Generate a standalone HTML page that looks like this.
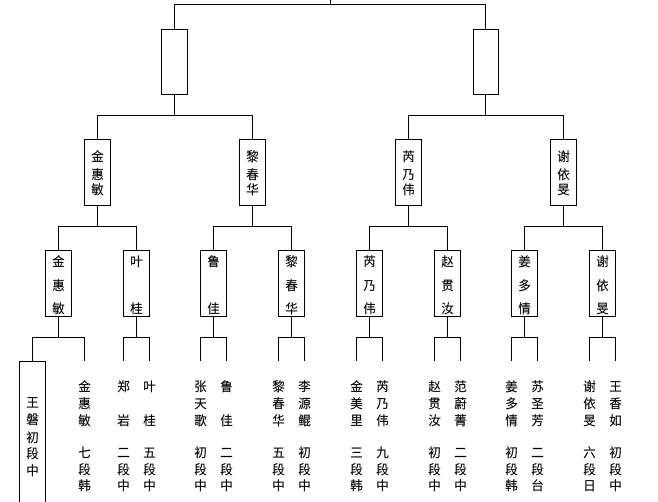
<!DOCTYPE html>
<html><head><meta charset="utf-8"><style>
html,body{margin:0;padding:0;background:#fff;width:658px;height:502px;overflow:hidden}
svg{display:block}
text{font-family:"Liberation Sans","WenQuanYi Zen Hei","Noto Sans CJK SC",sans-serif;font-size:12.5px;fill:#000;stroke:#000;stroke-width:.15;text-anchor:middle}
.b rect{fill:#fff;stroke:#000;stroke-width:1}
path{fill:none;stroke:#000;stroke-width:1}
</style></head><body>
<svg width="658" height="502" viewBox="0 0 658 502" shape-rendering="crispEdges">
<path d="M330.5 0V4.5M174.5 29V4.5H485.5V29M174.5 94V115.5M485.5 94V115.5
M97.5 139V115.5H252.5V139M408.5 139V115.5H563.5V139
M97.5 205V226.5M252.5 205V226.5M408.5 205V226.5M563.5 205V226.5
M58.5 250V226.5H136.5V250M213.5 250V226.5H291.5V250M369.5 250V226.5H447.5V250M524.5 250V226.5H602.5V250
M58.5 316V337.5M136.5 316V337.5M213.5 316V337.5M291.5 316V337.5M369.5 316V337.5M447.5 316V337.5M524.5 316V337.5M602.5 316V337.5
M32.5 361V337.5H84.5V361M123.5 361V337.5H149.5V361M200.5 361V337.5H226.5V361M278.5 361V337.5H304.5V361
M356.5 361V337.5H382.5V361M434.5 361V337.5H460.5V361M511.5 361V337.5H537.5V361M589.5 361V337.5H615.5V361
M19.5 502V361.5H45.5V502"/>
<g class="b">
<rect x="161.5" y="29.5" width="26" height="65"/>
<rect x="473.5" y="29.5" width="25" height="65"/>
<rect x="84.5" y="139.5" width="26" height="66"/>
<rect x="239.5" y="139.5" width="26" height="66"/>
<rect x="395.5" y="139.5" width="26" height="66"/>
<rect x="550.5" y="139.5" width="26" height="66"/>
<rect x="45.5" y="250.5" width="26" height="66"/>
<rect x="123.5" y="250.5" width="26" height="66"/>
<rect x="200.5" y="250.5" width="26" height="66"/>
<rect x="278.5" y="250.5" width="26" height="66"/>
<rect x="356.5" y="250.5" width="26" height="66"/>
<rect x="434.5" y="250.5" width="26" height="66"/>
<rect x="511.5" y="250.5" width="26" height="66"/>
<rect x="589.5" y="250.5" width="26" height="66"/>
</g>
<text x="97.5 97.5 97.5" y="161 179 194">金惠敏</text>
<text x="252.5 252.5 252.5" y="161 179 194">黎春华</text>
<text x="408.5 408.5 408.5" y="161 179 194">芮乃伟</text>
<text x="563.5 563.5 563.5" y="161 179 194">谢依旻</text>

<text x="58.5 58.5 58.5" y="266 290 313">金惠敏</text>
<text x="136.5 136.5" y="266 313">叶桂</text>
<text x="213.5 213.5" y="266 313">鲁佳</text>
<text x="291.5 291.5 291.5" y="266 290 313">黎春华</text>
<text x="369.5 369.5 369.5" y="266 290 313">芮乃伟</text>
<text x="447.5 447.5 447.5" y="266 290 313">赵贯汝</text>
<text x="524.5 524.5 524.5" y="266 290 313">姜多情</text>
<text x="602.5 602.5 602.5" y="266 290 313">谢依旻</text>

<text x="32.5 32.5 32.5 32.5 32.5" y="407 424 442 458 475">王磐初段中</text>

<text x="84.5 84.5 84.5 84.5 84.5 84.5" y="391 408 425 457 474 490">金惠敏七段韩</text>
<text x="123.5 123.5 123.5 123.5 123.5" y="391 425 457 474 490">郑岩二段中</text>
<text x="149.5 149.5 149.5 149.5 149.5" y="391 425 457 474 490">叶桂五段中</text>
<text x="200.5 200.5 200.5 200.5 200.5 200.5" y="391 408 425 457 474 490">张天歌初段中</text>
<text x="226.5 226.5 226.5 226.5 226.5" y="391 425 457 474 490">鲁佳二段中</text>
<text x="278.5 278.5 278.5 278.5 278.5 278.5" y="391 408 425 457 474 490">黎春华五段中</text>
<text x="304.5 304.5 304.5 304.5 304.5 304.5" y="391 408 425 457 474 490">李源鲲初段中</text>
<text x="356.5 356.5 356.5 356.5 356.5 356.5" y="391 408 425 457 474 490">金美里三段韩</text>
<text x="382.5 382.5 382.5 382.5 382.5 382.5" y="391 408 425 457 474 490">芮乃伟九段中</text>
<text x="434.5 434.5 434.5 434.5 434.5 434.5" y="391 408 425 457 474 490">赵贯汝初段中</text>
<text x="460.5 460.5 460.5 460.5 460.5 460.5" y="391 408 425 457 474 490">范蔚菁二段中</text>
<text x="511.5 511.5 511.5 511.5 511.5 511.5" y="391 408 425 457 474 490">姜多情初段韩</text>
<text x="537.5 537.5 537.5 537.5 537.5 537.5" y="391 408 425 457 474 490">苏圣芳二段台</text>
<text x="589.5 589.5 589.5 589.5 589.5 589.5" y="391 408 425 457 474 490">谢依旻六段日</text>
<text x="615.5 615.5 615.5 615.5 615.5 615.5" y="391 408 425 457 474 490">王香如初段中</text>
</svg>
</body></html>
